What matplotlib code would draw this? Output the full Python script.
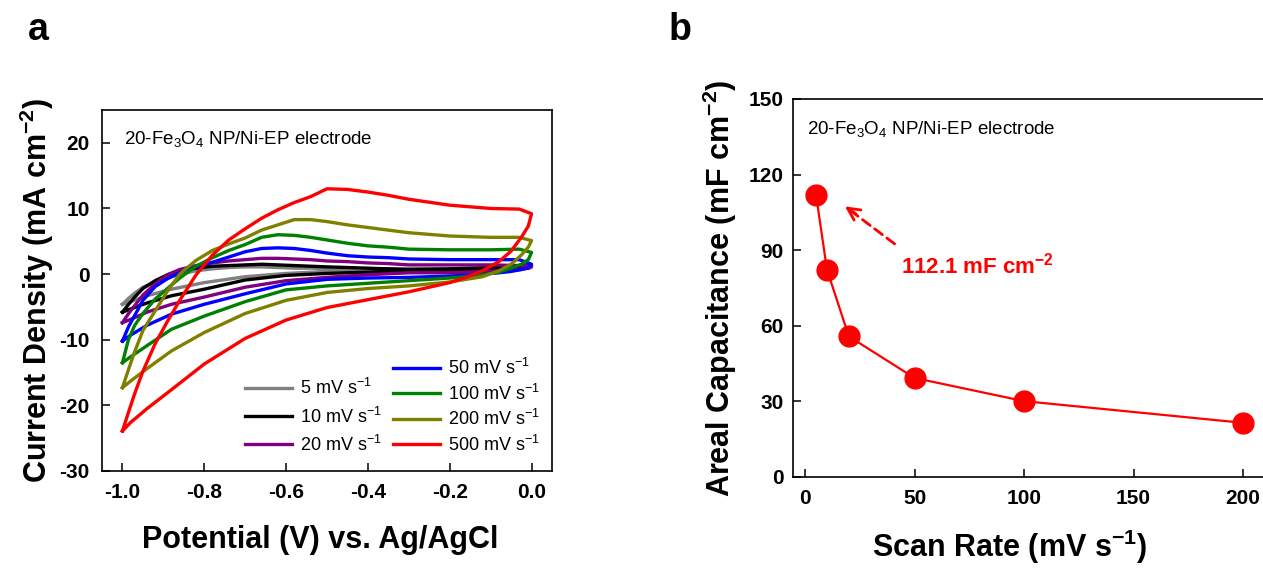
import numpy as np
import matplotlib
matplotlib.use('Agg')
import matplotlib.pyplot as plt

plt.rcParams['font.family'] = ['Liberation Sans', 'DejaVu Sans']
plt.rcParams['mathtext.fontset'] = 'custom'
plt.rcParams['mathtext.rm'] = 'Liberation Sans'
plt.rcParams['mathtext.it'] = 'Liberation Sans:italic'
plt.rcParams['mathtext.bf'] = 'Liberation Sans:bold'
plt.rcParams['axes.unicode_minus'] = False

# ---- panel a: CV curves (potential grids shared by all scan rates)
E_fwd = [-1.0, -0.985, -0.97, -0.95, -0.92, -0.89, -0.86, -0.82, -0.78, -0.74, -0.7, -0.66,
         -0.62, -0.58, -0.54, -0.5, -0.45, -0.4, -0.35, -0.3, -0.2, -0.1, -0.03, 0.0]
E_rev = [0.0, -0.008, -0.025, -0.05, -0.08, -0.12, -0.16, -0.2, -0.3, -0.4, -0.5, -0.6,
         -0.7, -0.8, -0.88, -0.94, -0.98, -1.0]

j5_fwd = [-4.6, -3.7, -2.9, -2.0, -1.2, -0.6, 0.0, 0.5, 0.8, 1.0, 1.1, 1.1,
          1.0, 0.9, 0.9, 0.8, 0.8, 0.8, 0.8, 0.8, 0.8, 0.9, 1.0, 1.0]
j5_rev = [1.0, 0.9, 0.8, 0.7, 0.7, 0.6, 0.6, 0.6, 0.6, 0.5, 0.4, 0.1,
          -0.4, -1.3, -2.3, -3.3, -4.2, -4.6]

j10_fwd = [-5.8, -4.6, -3.5, -2.2, -1.0, -0.1, 0.5, 0.9, 1.2, 1.3, 1.4, 1.5,
           1.4, 1.3, 1.2, 1.1, 1.0, 0.9, 0.8, 0.7, 0.8, 1.0, 1.2, 1.3]
j10_rev = [1.3, 1.1, 0.9, 0.8, 0.7, 0.6, 0.6, 0.5, 0.5, 0.3, 0.1, -0.2,
           -0.9, -2.3, -3.3, -4.4, -5.3, -5.8]

j20_fwd = [-7.4, -6.0, -4.8, -3.2, -1.5, -0.1, 0.7, 1.3, 1.7, 2.0, 2.2, 2.4,
           2.4, 2.3, 2.2, 2.0, 1.9, 1.7, 1.6, 1.4, 1.4, 1.4, 1.3, 1.2]
j20_rev = [1.2, 0.9, 0.7, 0.6, 0.5, 0.4, 0.3, 0.2, 0.2, -0.1, -0.5, -1.0,
           -2.0, -3.5, -4.6, -5.8, -6.9, -7.4]

j50_fwd = [-10.2, -8.0, -6.3, -4.0, -1.9, -0.7, 0.2, 1.1, 1.8, 2.6, 3.4, 3.9,
           4.0, 3.9, 3.6, 3.2, 2.8, 2.6, 2.5, 2.3, 2.2, 2.2, 2.2, 1.5]
j50_rev = [1.5, 1.0, 0.7, 0.4, 0.2, 0.0, -0.15, -0.3, -0.5, -0.6, -0.8, -1.5,
           -3.0, -4.6, -6.1, -7.8, -9.3, -10.2]

j100_fwd = [-13.5, -9.9, -7.8, -6.0, -3.8, -2.2, -0.6, 1.2, 2.5, 3.6, 4.5, 5.6,
            6.0, 5.9, 5.6, 5.2, 4.7, 4.3, 4.1, 3.8, 3.7, 3.7, 3.8, 3.3]
j100_rev = [3.3, 2.2, 1.5, 0.9, 0.3, -0.1, -0.4, -0.6, -1.0, -1.4, -1.8, -2.4,
            -4.2, -6.4, -8.4, -10.9, -12.6, -13.5]

j200_fwd = [-17.3, -14.5, -11.8, -8.6, -5.6, -2.6, 0.0, 2.1, 3.6, 4.6, 5.5, 6.7,
            7.5, 8.3, 8.3, 8.0, 7.5, 7.1, 6.7, 6.3, 5.8, 5.6, 5.6, 5.1]
j200_rev = [5.1, 4.1, 2.9, 1.5, 0.5, -0.4, -0.8, -1.2, -1.8, -2.2, -2.8, -4.0,
            -6.0, -8.9, -11.7, -14.4, -16.3, -17.3]

j500_fwd = [-23.9, -21.0, -18.2, -14.8, -10.6, -7.2, -4.0, -0.1, 2.9, 5.2, 6.9, 8.5,
            9.8, 10.9, 11.8, 13.0, 12.9, 12.5, 12.0, 11.4, 10.5, 10.0, 9.9, 9.2]
j500_rev = [9.2, 7.3, 5.6, 3.5, 1.9, 0.5, -0.5, -1.3, -2.7, -3.9, -5.1, -7.0,
            -9.8, -13.7, -17.6, -20.5, -22.6, -23.9]

rates = ['5', '10', '20', '50', '100', '200', '500']
cv_colors = ['#808080', '#000000', '#800080', '#0000ff', '#008000', '#808000', '#ff0000']
fwd_list = [j5_fwd, j10_fwd, j20_fwd, j50_fwd, j100_fwd, j200_fwd, j500_fwd]
rev_list = [j5_rev, j10_rev, j20_rev, j50_rev, j100_rev, j200_rev, j500_rev]

# ---- panel b: areal capacitance
scan_rate = [5, 10, 20, 50, 100, 200]
cap = [112.1, 82.3, 55.8, 39.3, 30.1, 21.5]

fig = plt.figure(figsize=(12.63, 5.68), dpi=100)
ax1 = fig.add_axes([102 / 1263, 97 / 568, 450 / 1263, 361 / 568])
ax2 = fig.add_axes([793 / 1263, 91 / 568, 472 / 1263, 378 / 568])

lines = []
for i in range(len(rates)):
    e = np.concatenate([E_fwd, E_rev])
    j = np.concatenate([fwd_list[i], rev_list[i]])
    ln, = ax1.plot(e, j, color=cv_colors[i], lw=2.4, solid_joinstyle='round',
                   label=rates[i] + r' mV s$^{-1}$')
    lines.append(ln)

ax1.set_xlim(-1.05, 0.05)
ax1.set_ylim(-30, 25)
ax1.set_xticks([-1.0, -0.8, -0.6, -0.4, -0.2, 0.0])
ax1.set_xticklabels(['-1.0', '-0.8', '-0.6', '-0.4', '-0.2', '0.0'])
ax1.set_yticks([-30, -20, -10, 0, 10, 20])

leg_kw = dict(loc='lower left', frameon=False, fontsize=13, handlelength=2.6,
              handletextpad=0.45, borderpad=0, borderaxespad=0)
leg1 = ax1.legend(handles=lines[:3], bbox_to_anchor=(0.318, 0.045), labelspacing=0.45, **leg_kw)
ax1.add_artist(leg1)
ax1.legend(handles=lines[3:], bbox_to_anchor=(0.647, 0.045), labelspacing=0.3, **leg_kw)

ax1.text(0.05, 0.92, r'20-Fe$_3$O$_4$ NP/Ni-EP electrode', transform=ax1.transAxes,
         fontsize=13.5, va='center')
ax1.set_xlabel('Potential (V) vs. Ag/AgCl', fontsize=22, fontweight='bold', va='center')
ax1.set_ylabel(r'Current Density (mA cm$^{\mathbf{-2}}$)', fontsize=22, fontweight='bold',
               va='center')
ax1.xaxis.set_label_coords(0.484, -0.19)
ax1.yaxis.set_label_coords(-0.144, 0.5)

ax2.plot(scan_rate, cap, color='#ff0000', lw=1.6, marker='o', ms=15, mec='#ff0000', mfc='#ff0000')
ax2.set_xlim(-5.5, 210)
ax2.set_ylim(0, 150)
ax2.set_xticks([0, 50, 100, 150, 200])
ax2.set_yticks([0, 30, 60, 90, 120, 150])
ax2.text(0.03, 0.92, r'20-Fe$_3$O$_4$ NP/Ni-EP electrode', transform=ax2.transAxes,
         fontsize=13.5, va='center')

# dashed arrow pointing at the first point
tip = (scan_rate[0] + 13.2, cap[0] - 4.7)
tail = (40.9, 92.5)
ax2.annotate('', xy=tip, xytext=tail,
             arrowprops=dict(arrowstyle='-', color='#ff0000', lw=2, ls=(0, (3.5, 2)),
                             shrinkA=0, shrinkB=4))
ax2.annotate('', xy=tip, xytext=(8, -5.5), textcoords='offset points',
             arrowprops=dict(arrowstyle='->', color='#ff0000', lw=2, mutation_scale=22,
                             shrinkA=0, shrinkB=0))
ax2.text(44, 84, '%.1f mF cm$^{\\mathbf{-2}}$' % cap[0], color='#ff0000', fontsize=16,
         fontweight='bold', va='center')

ax2.set_xlabel(r'Scan Rate (mV s$^{\mathbf{-1}}$)', fontsize=22, fontweight='bold', va='center')
ax2.set_ylabel(r'Areal Capacitance (mF cm$^{\mathbf{-2}}$)', fontsize=22, fontweight='bold',
               va='center')
ax2.xaxis.set_label_coords(0.458, -0.185)
ax2.yaxis.set_label_coords(-0.155, 0.5)

for ax in (ax1, ax2):
    for s in ax.spines.values():
        s.set_linewidth(1.2)
    ax.tick_params(direction='in', length=6, width=1.1, labelsize=15, pad=9)
    for lbl in ax.get_xticklabels() + ax.get_yticklabels():
        lbl.set_fontweight('bold')
ax2.tick_params(axis='y', pad=7)

fig.text(38 / 1263, 1 - 30 / 568, 'a', fontsize=27, fontweight='bold', ha='center', va='center')
fig.text(680 / 1263, 1 - 30 / 568, 'b', fontsize=27, fontweight='bold', ha='center', va='center')

fig.savefig('out.png', dpi=100)
